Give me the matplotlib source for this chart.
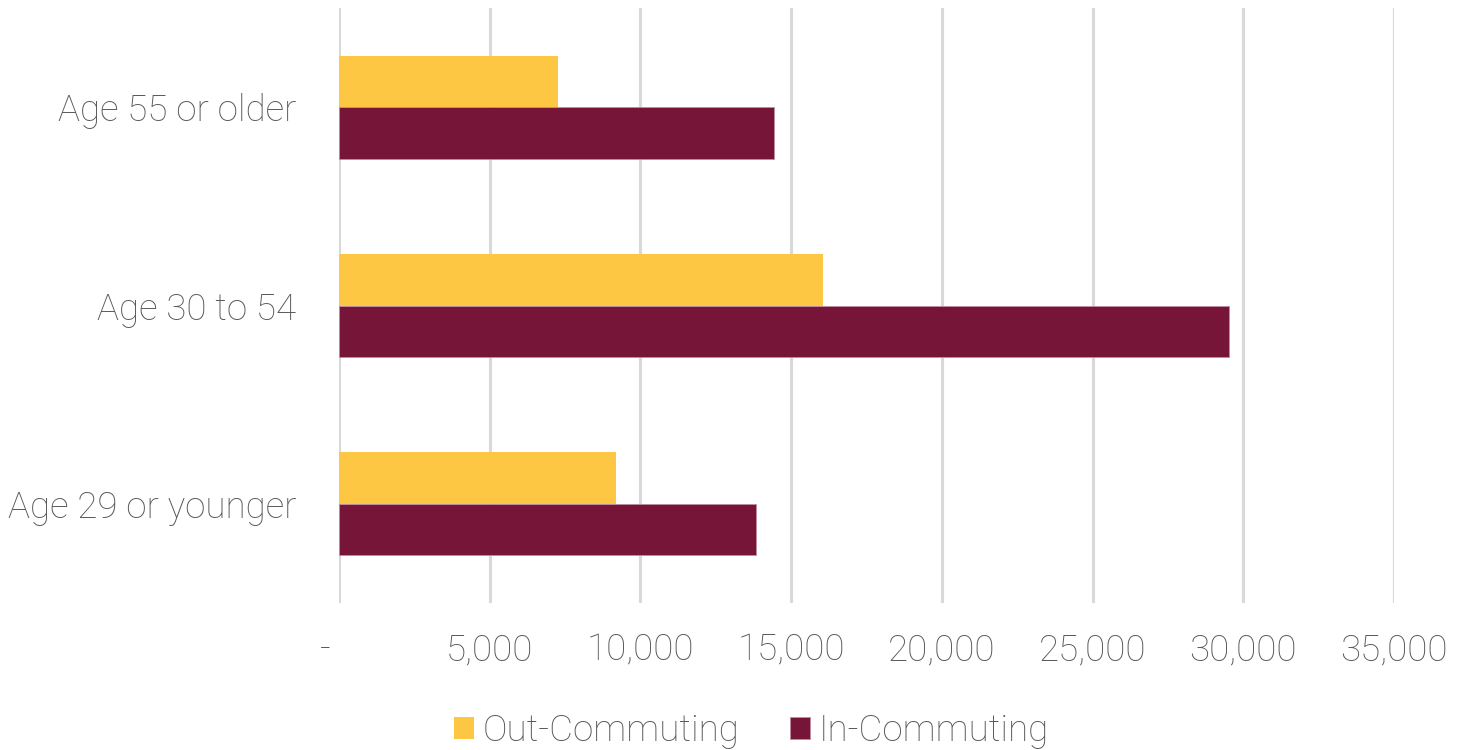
import numpy as np
import matplotlib.pyplot as plt
from matplotlib.ticker import FuncFormatter

plt.rcParams['font.family'] = ['Roboto', 'DejaVu Sans']
plt.rcParams['font.weight'] = 'light'

# data (bottom to top)
categories = ['Age 29 or younger', 'Age 30 to 54', 'Age 55 or older']
out_commuting = [9200, 16070, 7280]
in_commuting = [13820, 29510, 14430]
x_ticks = [0, 5000, 10000, 15000, 20000, 25000, 30000, 35000]

YELLOW = '#FDC743'
MAROON = '#771539'
TEXT = '#595959'
FS = 26.5

fig = plt.figure(figsize=(14.66, 7.5), dpi=100)
ax = fig.add_axes([0.2312, 0.196, 0.7197, 0.7933])

y = np.arange(len(categories))
h = 0.26
ax.barh(y + h / 2, out_commuting, height=h, color=YELLOW, label='Out-Commuting', zorder=3)
ax.barh(y - h / 2, in_commuting, height=h, color=MAROON, label='In-Commuting', zorder=3,
        edgecolor='#c08ca0', linewidth=0.6)

ax.set_xlim(0, 35000)
ax.set_ylim(-0.5, 2.5)
ax.set_xticks(x_ticks)
# accounting-style zero: dash with trailing spaces
ax.xaxis.set_major_formatter(FuncFormatter(lambda v, p: '-   ' if v == 0 else f'{int(v):,}'))
ax.set_yticks(y)
ax.set_yticklabels(categories)

ax.grid(axis='x', color='#D9D9D9', linewidth=2.2, zorder=0)
ax.set_axisbelow(True)
for s in ax.spines.values():
    s.set_visible(False)
ax.tick_params(axis='both', length=0, labelsize=FS, labelcolor=TEXT)
ax.tick_params(axis='x', pad=21)
ax.tick_params(axis='y', pad=30.5)

fig.legend(loc='lower center', bbox_to_anchor=(0.5126, -0.043), ncol=2, frameon=False,
           fontsize=FS, labelcolor=TEXT, handlelength=0.54, handleheight=0.54,
           handletextpad=0.25, columnspacing=1.36)

fig.savefig('out.png', dpi=100)
